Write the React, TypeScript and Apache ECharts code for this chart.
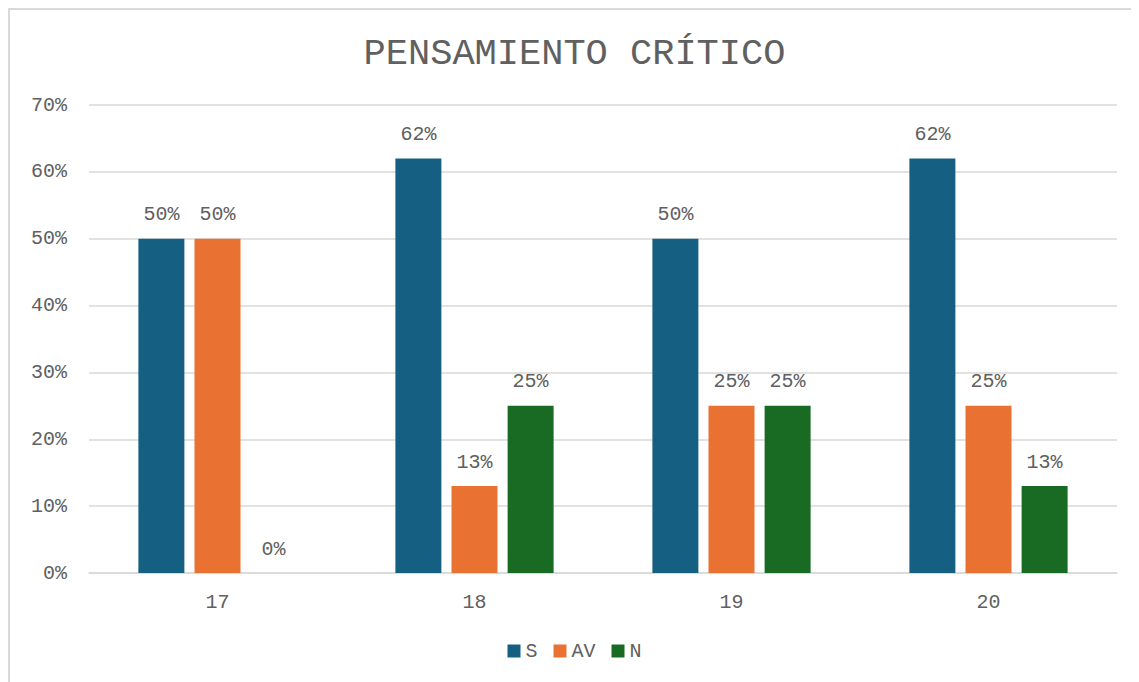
import React, { useEffect, useRef } from "react";
import * as echarts from "echarts";

const categories = ["17", "18", "19", "20"];
const seriesNames = ["S", "AV", "N"];
const valuesS = [50, 62, 50, 62];
const valuesAV = [50, 13, 25, 25];
const valuesN = [0, 25, 25, 13];
const colors = ["#156082", "#E97132", "#196B24"];
const yTicks = { min: 0, max: 70, interval: 10 };

const FONT = '"Courier New", "Liberation Mono", monospace';
const TEXT = "#606060";

export default function App() {
  const ref = useRef<HTMLDivElement>(null);
  useEffect(() => {
    document.body.style.overflow = "hidden";
    const chart = echarts.init(ref.current!, undefined, { renderer: "svg" });
    const data = [valuesS, valuesAV, valuesN];
    chart.setOption({
      animation: false,
      title: {
        text: "PENSAMIENTO CRÍTICO",
        left: "center",
        top: 20,
        textStyle: { fontFamily: FONT, fontSize: 37, fontWeight: "normal", color: TEXT },
      },
      legend: {
        data: seriesNames,
        bottom: 16,
        left: "center",
        itemWidth: 13,
        itemHeight: 13,
        itemGap: 16,
        icon: "rect",
        textStyle: { fontFamily: FONT, fontSize: 20, color: TEXT },
      },
      grid: { left: 79, right: 22, top: 95, bottom: 109 },
      xAxis: {
        type: "category",
        data: categories,
        axisLine: { lineStyle: { color: "#d9d9d9", width: 1.5 } },
        axisTick: { show: false },
        axisLabel: { fontFamily: FONT, fontSize: 20, color: TEXT, margin: 19 },
      },
      yAxis: {
        type: "value",
        min: yTicks.min,
        max: yTicks.max,
        interval: yTicks.interval,
        axisLabel: { fontFamily: FONT, fontSize: 20, color: TEXT, margin: 22, formatter: "{value}%" },
        splitLine: { lineStyle: { color: "#d9d9d9", width: 1.5 } },
        axisLine: { show: false },
        axisTick: { show: false },
      },
      series: seriesNames.map((name, i) => ({
        name,
        type: "bar",
        data: data[i],
        barWidth: 46,
        barGap: "22%",
        itemStyle: { color: colors[i] },
        label: {
          show: true,
          position: "top",
          distance: 14,
          formatter: "{c}%",
          fontFamily: FONT,
          fontSize: 20,
          color: TEXT,
        },
      })),
    });
    return () => chart.dispose();
  }, []);
  return (
    <div
      style={{
        width: 1131,
        height: 674,
        borderTop: "2px solid #d9d9d9",
        borderLeft: "2px solid #d9d9d9",
        boxSizing: "border-box",
        background: "#fff",
      }}
    >
      <div ref={ref} style={{ width: 1129, height: 672 }} />
    </div>
  );
}
